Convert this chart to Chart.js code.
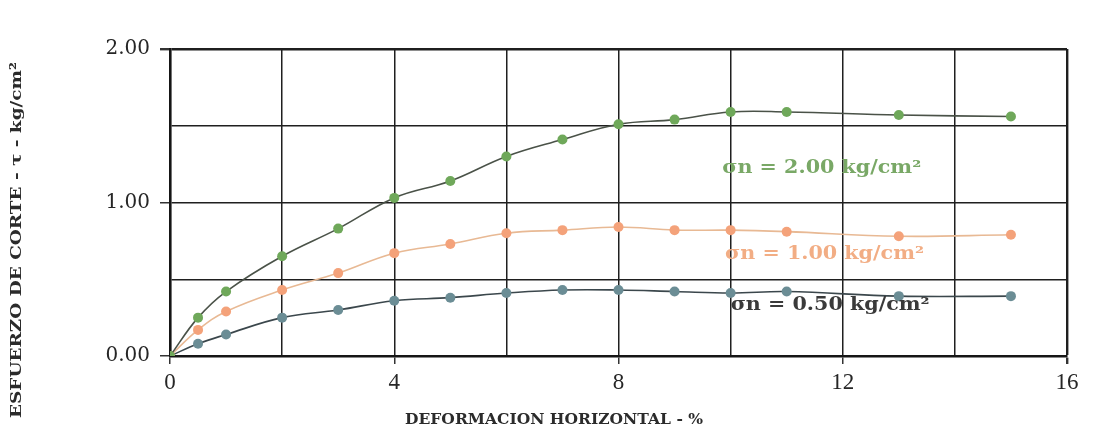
<!DOCTYPE html>
<html>
<head>
<meta charset="utf-8">
<script src="https://cdn.jsdelivr.net/npm/chart.js@4/dist/chart.umd.min.js"></script>
<style>
  html, body { margin: 0; padding: 0; background: #ffffff; }
  #wrap { width: 1109px; height: 430px; position: relative; }
</style>
</head>
<body>
<div id="wrap"><canvas id="chart" width="1109" height="430"></canvas></div>
<script>
// Horizontal deformation (%) at each reading
const deformacion = [0, 0.5, 1, 2, 3, 4, 5, 6, 7, 8, 9, 10, 11, 13, 15];

// Shear stress (kg/cm²) for each normal stress
const tau200 = [0, 0.25, 0.42, 0.65, 0.83, 1.03, 1.14, 1.30, 1.41, 1.51, 1.54, 1.59, 1.59, 1.57, 1.56];
const tau100 = [0, 0.17, 0.29, 0.43, 0.54, 0.67, 0.73, 0.80, 0.82, 0.84, 0.82, 0.82, 0.81, 0.78, 0.79];
const tau050 = [0, 0.08, 0.14, 0.25, 0.30, 0.36, 0.38, 0.41, 0.43, 0.43, 0.42, 0.41, 0.42, 0.39, 0.39];

// Curve labels and where they sit (data units)
const curveLabels = ['σn = 2.00 kg/cm²', 'σn = 1.00 kg/cm²', 'σn = 0.50 kg/cm²'];
const curveLabelX = [9.85, 9.9, 10.0];
const curveLabelY = [1.22, 0.66, 0.33];

const xTitle = 'DEFORMACION HORIZONTAL - %';
const yTitle = 'ESFUERZO DE CORTE - τ - kg/cm²';

const pointsOf = (xs, ys) => xs.map((x, i) => ({ x: x, y: ys[i] }));

const GREEN = '#6fa85a', ORANGE = '#f4a27a', SLATE = '#6b8d95';

function fillFitted(ctx, text, x, y, width, align) {
  const w = ctx.measureText(text).width;
  ctx.save();
  ctx.translate(x, y);
  ctx.scale(width / w, 1);
  ctx.textAlign = align || 'center';
  ctx.fillText(text, 0, 0);
  ctx.restore();
}

const annotations = {
  id: 'annotations',
  afterDatasetsDraw(chart) {
    const ctx = chart.ctx;
    const xs = chart.scales.x, ys = chart.scales.y;
    const colors = ['#79a866', '#f2ad84', '#3a3a3a'];
    ctx.save();
    ctx.textBaseline = 'middle';
    ctx.font = 'bold 18px "DejaVu Serif"';
    curveLabels.forEach((t, i) => {
      ctx.fillStyle = colors[i];
      fillFitted(ctx, t, xs.getPixelForValue(curveLabelX[i]), ys.getPixelForValue(curveLabelY[i]), 199, 'left');
    });
    // axis titles
    ctx.fillStyle = '#2b2b2b';
    ctx.font = 'bold 14px "DejaVu Serif"';
    fillFitted(ctx, xTitle, 554, 420, 298, 'center');
    ctx.font = 'bold 15px "DejaVu Serif"';
    ctx.translate(17, 240);
    ctx.rotate(-Math.PI / 2);
    fillFitted(ctx, yTitle, 0, 0, 356, 'center');
    ctx.restore();
  }
};

new Chart(document.getElementById('chart'), {
  type: 'line',
  data: {
    datasets: [
      { label: curveLabels[0], data: pointsOf(deformacion, tau200),
        borderColor: '#4a5248', backgroundColor: GREEN, pointBackgroundColor: GREEN },
      { label: curveLabels[1], data: pointsOf(deformacion, tau100),
        borderColor: '#e8b994', backgroundColor: ORANGE, pointBackgroundColor: ORANGE },
      { label: curveLabels[2], data: pointsOf(deformacion, tau050),
        borderColor: '#3b474c', backgroundColor: SLATE, pointBackgroundColor: SLATE }
    ].map(d => Object.assign(d, {
      borderWidth: 1.6, tension: 0.4,
      pointRadius: 5, pointBorderWidth: 0, fill: false
    }))
  },
  options: {
    responsive: false,
    animation: false,
    devicePixelRatio: 1,
    layout: { padding: { left: 0, right: 42, top: 49, bottom: 0 } },
    plugins: { legend: { display: false }, tooltip: { enabled: false } },
    scales: {
      x: {
        type: 'linear', min: 0, max: 16,
        afterFit: s => { s.height = 74; },
        ticks: {
          stepSize: 2, autoSkip: false, maxRotation: 0,
          callback: v => (v % 4 === 0 ? String(v) : ''),
          color: '#262626', padding: 5,
          font: { family: '"Liberation Serif"', size: 23 }
        },
        grid: {
          color: '#1f1f1f',
          lineWidth: c => (c.tick && c.tick.value === 16 ? 2.4 : 1.5),
          tickLength: 8,
          tickColor: c => (c.tick && c.tick.value % 4 === 0 ? '#333' : 'rgba(0,0,0,0)')
        },
        border: { color: '#151515', width: 2.6 }
      },
      y: {
        min: 0, max: 2,
        afterFit: s => { s.width = 170; },
        ticks: {
          stepSize: 0.5, autoSkip: false,
          callback: v => (Number.isInteger(v) ? v.toFixed(2) : ''),
          color: '#262626', padding: 10,
          font: { family: '"DejaVu Serif"', size: 20 }
        },
        grid: {
          color: '#1f1f1f',
          lineWidth: c => (c.tick && c.tick.value === 2 ? 2.4 : 1.5),
          tickLength: 10,
          tickColor: c => (c.tick && Number.isInteger(c.tick.value) ? '#333' : 'rgba(0,0,0,0)')
        },
        border: { color: '#151515', width: 2.6 }
      }
    }
  },
  plugins: [annotations]
});
</script>
</body>
</html>
